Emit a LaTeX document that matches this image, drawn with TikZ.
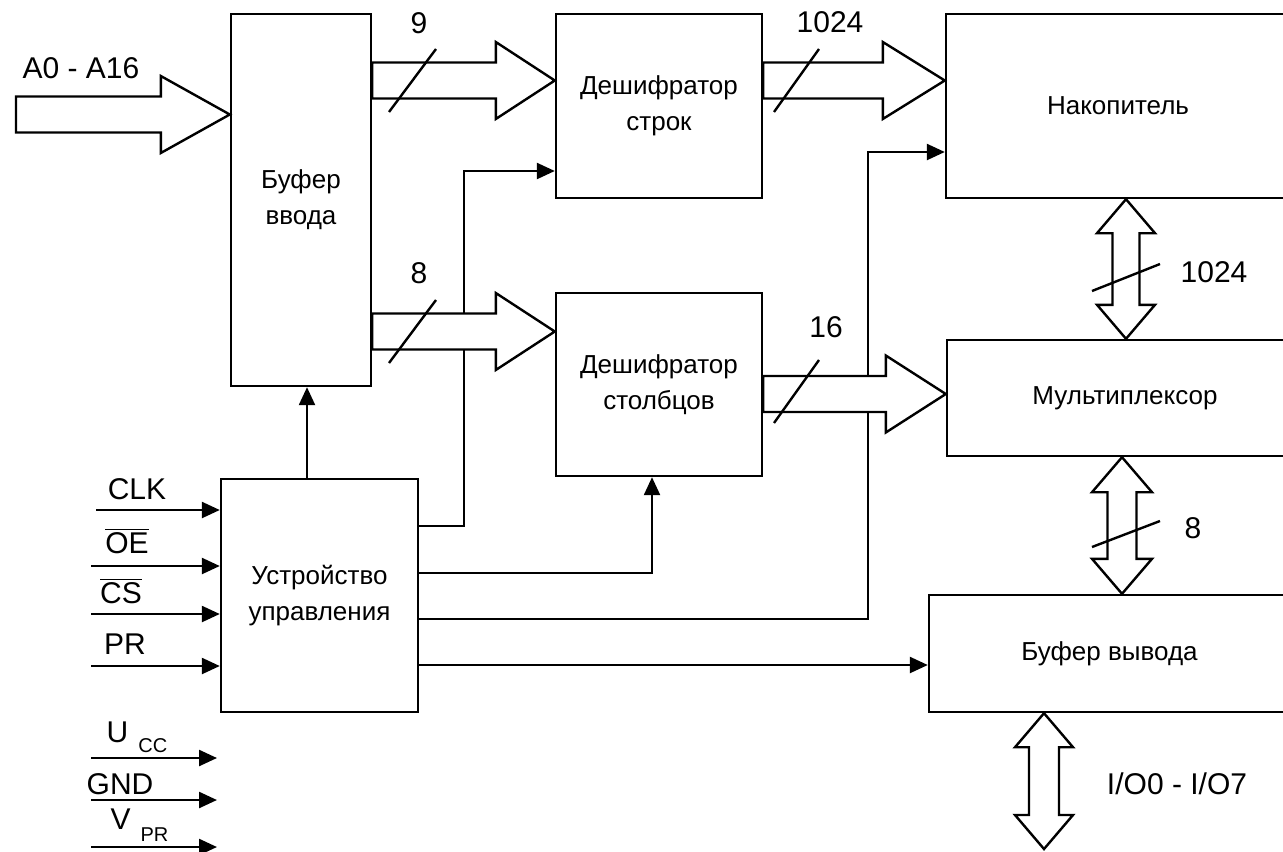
\documentclass[tikz,border=0pt]{standalone}
\usepackage{fontspec}
\setmainfont{Liberation Sans}
\usetikzlibrary{positioning,calc,arrows.meta}

\newcommand{\hbus}[3]{\draw[bus] ($(#1)+(0,18)$) -- ($(#2)+(-#3,18)$) -- ($(#2)+(-#3,38.5)$) -- (#2) -- ($(#2)+(-#3,-38.5)$) -- ($(#2)+(-#3,-18)$) -- ($(#1)+(0,-18)$) -- cycle;}
\newcommand{\vbus}[5]{\draw[bus] (#1) -- ($(#1)+(#4,#5)$) -- ($(#1)+(#3,#5)$) -- ($(#2)+(#3,-#5)$) -- ($(#2)+(#4,-#5)$) -- (#2) -- ($(#2)+(-#4,-#5)$) -- ($(#2)+(-#3,-#5)$) -- ($(#1)+(-#3,#5)$) -- ($(#1)+(-#4,#5)$) -- cycle;}

\begin{document}
\begin{tikzpicture}[x=0.5pt, y=-0.5pt, line width=1.2pt,
    blk/.style={draw, rectangle, align=center, inner sep=0pt, font=\fontsize{13}{18}\selectfont},
    lbl/.style={inner sep=0pt, font=\fontsize{15}{18}\selectfont},
    sig/.style={-{Triangle[length=9pt,width=8pt]}},
    bus/.style={fill=white, line join=miter}]

    \useasboundingbox (0,0) rectangle (1283,851);
    \clip (0,0) rectangle (1283,851);

    \node[blk, minimum width=70pt, minimum height=186pt] (bufin) at (301,200) {Буфер\\ввода};
    \node[blk, minimum width=103pt, minimum height=92pt] (decrow) at (659,106) {Дешифратор\\строк};
    \node[blk, minimum width=103pt, minimum height=91.5pt] (deccol) at (659,384.5) {Дешифратор\\столбцов};
    \node[blk, minimum width=172pt, minimum height=92pt] (store) at (1118,106) {Накопитель};
    \node[blk, minimum width=178pt, minimum height=58pt] (mux) at (1125,398) {Мультиплексор};
    \node[blk, minimum width=180.5pt, minimum height=58.5pt] (bufout) at (1109.5,653.5) {Буфер вывода};
    \node[blk, minimum width=98.5pt, minimum height=116.5pt] (ctrl) at (319.5,595.5) {Устройство\\управления};

    \coordinate (k1) at (464,171);
    \coordinate (k2) at (868,152);

    \draw[sig] (ctrl.north -| 307,0) -- (bufin.south -| 307,0);
    \draw[sig] (ctrl.east |- 0,526) -| (k1) -- (decrow.west |- k1);
    \draw[sig] (ctrl.east |- 0,573) -| (deccol.south -| 652,0);
    \draw[sig] (ctrl.east |- 0,619) -| (k2) -- (store.west |- k2);
    \draw[sig] (ctrl.east |- 0,665) -- (bufout.west |- 0,665);

    \coordinate (clk0) at (96,510);
    \coordinate (oe0) at (91,566);
    \coordinate (cs0) at (91,614);
    \coordinate (pr0) at (91,666);
    \draw[sig] (clk0) -- (clk0 -| ctrl.west);
    \draw[sig] (oe0) -- (oe0 -| ctrl.west);
    \draw[sig] (cs0) -- (cs0 -| ctrl.west);
    \draw[sig] (pr0) -- (pr0 -| ctrl.west);

    \coordinate (ucc0) at (91,758);
    \coordinate (ucc1) at (217,758);
    \coordinate (gnd0) at (91,800);
    \coordinate (gnd1) at (217,800);
    \coordinate (vpr0) at (91,847);
    \coordinate (vpr1) at (217,847);
    \draw[sig] (ucc0) -- (ucc1);
    \draw[sig] (gnd0) -- (gnd1);
    \draw[sig] (vpr0) -- (vpr1);

    \coordinate (a0) at (16,114.5);
    \coordinate (a1) at (bufin.west |- a0);
    \coordinate (r0) at (bufin.east |- 0,80.5);
    \coordinate (r1) at (decrow.west |- r0);
    \coordinate (c0) at (bufin.east |- 0,331.5);
    \coordinate (c1) at (deccol.west |- c0);
    \coordinate (w0) at (decrow.east |- 0,80.5);
    \coordinate (w1) at (store.west |- w0);
    \coordinate (m0) at (deccol.east |- 0,394);
    \coordinate (m1) at (mux.west |- m0);
    \hbus{a0}{a1}{69}
    \hbus{r0}{r1}{59}
    \hbus{c0}{c1}{59}
    \hbus{w0}{w1}{62}
    \hbus{m0}{m1}{60}

    \coordinate (v1t) at (store.south -| 1126,0);
    \coordinate (v1b) at (mux.north -| 1126,0);
    \coordinate (v2t) at (mux.south -| 1122,0);
    \coordinate (v2b) at (bufout.north -| 1122,0);
    \coordinate (v3t) at (bufout.south -| 1044,0);
    \coordinate (v3b) at (1044,849);
    \vbus{v1t}{v1b}{13.5}{29}{34}
    \vbus{v2t}{v2b}{14.5}{30}{35}
    \vbus{v3t}{v3b}{15}{29}{34}

    \draw (389,112) -- (436,49);
    \draw (389,363) -- (436,300);
    \draw (774,112) -- (819,49);
    \draw (774,423) -- (819,360);
    \draw (1092,291) -- (1160,264);
    \draw (1092,547) -- (1160,521);

    \node[lbl] (lA) at (81,68) {A0 - A16};
    \node[lbl] (l9) at (419,23) {9};
    \node[lbl] (l8) at (419,273) {8};
    \node[lbl] (lrow) at (830,22) {1024};
    \node[lbl] (lcol) at (826,327) {16};
    \node[lbl] (lmem) at (1214,272) {1024};
    \node[lbl] (lmux) at (1193,528) {8};
    \node[lbl] (lio) at (1177,784) {I/O0 - I/O7};

    \node[lbl] (lclk) at (137,489) {CLK};
    \node[lbl] (loe) at (127,541) {$\overline{\mbox{OE}}$};
    \node[lbl] (lcs) at (121,591) {$\overline{\mbox{CS}}$};
    \node[lbl] (lpr) at (125,644) {PR};
    \node[lbl] (lucc) at (137,737.5) {U\hspace{5pt}\raisebox{-5pt}{\fontsize{10}{10}\selectfont CC}};
    \node[lbl] (lgnd) at (120,784) {GND};
    \node[lbl] (lvpr) at (139.5,825) {V\hspace{5pt}\raisebox{-6pt}{\fontsize{10}{10}\selectfont PR}};
\end{tikzpicture}
\end{document}
